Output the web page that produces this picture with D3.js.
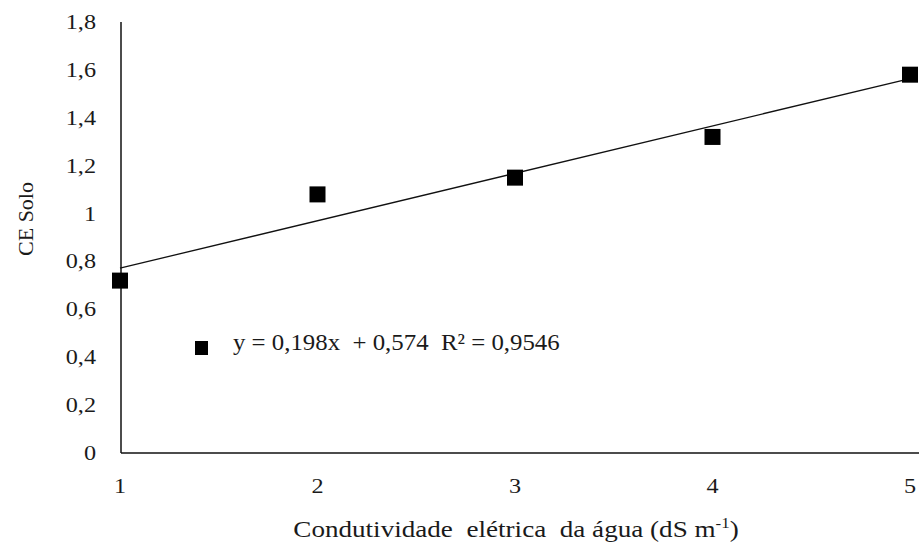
<!DOCTYPE html>
<html>
<head>
<meta charset="utf-8">
<script src="https://cdn.jsdelivr.net/npm/d3@7"></script>
<style>
  body { margin: 0; background: #fff; }
  svg text { font-family: "Liberation Serif", "Times New Roman", serif; fill: #1a1a1a; white-space: pre; }
</style>
</head>
<body>
<div class="canvas"></div>
<script>
// data
var condAgua = [1, 2, 3, 4, 5];
var ceSolo = [0.72, 1.08, 1.15, 1.32, 1.58];
var yTicks = [0, 0.2, 0.4, 0.6, 0.8, 1, 1.2, 1.4, 1.6, 1.8];
var fitSlope = 0.198;
var fitIntercept = 0.574;
var fitLabel = "y = 0,198x  + 0,574  R² = 0,9546";

var fig_width = 919;
var fig_height = 543;

var svg = d3.select("body div.canvas").append("svg")
	.attr("width", fig_width)
	.attr("height", fig_height);

var x = d3.scaleLinear().domain([1, 5]).range([120, 910]);
var y = d3.scaleLinear().domain([0, 1.8]).range([453, 22]);
var fmt = function(v) { return String(v).replace(".", ","); };

// the source text looks a bit stretched sideways, so widen it with a scale
function label(px, py, anchor, size, sx, txt) {
	return svg.append("text")
		.attr("transform", "translate(" + px + "," + py + ") scale(" + sx + ",1)")
		.attr("text-anchor", anchor)
		.style("font-size", size + "px")
		.text(txt);
}

// axis lines
svg.append("line")
	.attr("x1", 121).attr("x2", 121)
	.attr("y1", y(1.8)).attr("y2", y(0))
	.attr("stroke", "#111").attr("stroke-width", 1.5);
svg.append("line")
	.attr("x1", 121).attr("x2", 919)
	.attr("y1", y(0)).attr("y2", y(0))
	.attr("stroke", "#111").attr("stroke-width", 1.5);

// y tick labels
yTicks.forEach(function(d) {
	label(96, y(d) + 7, "end", 22, 1.1, fmt(d));
});

// x tick labels
condAgua.forEach(function(d) {
	label(x(d), 493, "middle", 22, 1.1, d);
});

// trend line
svg.append("line")
	.attr("x1", x(1)).attr("y1", y(fitSlope * 1 + fitIntercept))
	.attr("x2", x(5)).attr("y2", y(fitSlope * 5 + fitIntercept))
	.attr("stroke", "#111").attr("stroke-width", 1.3);

// points
var sq = 16;
svg.selectAll("rect.pt").data(condAgua).enter()
	.append("rect")
	.attr("class", "pt")
	.attr("x", function(d) { return x(d) - sq / 2; })
	.attr("y", function(d, i) { return y(ceSolo[i]) - sq / 2; })
	.attr("width", sq).attr("height", sq)
	.attr("fill", "#000");

// legend
svg.append("rect")
	.attr("x", 195).attr("y", 341)
	.attr("width", 13).attr("height", 14)
	.attr("fill", "#000");
label(233, 350, "start", 23, 1.08, fitLabel);

// axis titles
var xt = label(516, 537, "middle", 24, 1.13, "Condutividade  elétrica  da água (dS m");
xt.append("tspan").attr("dy", -9).style("font-size", "15px").text("-1");
xt.append("tspan").attr("dy", 9).text(")");

svg.append("text")
	.attr("transform", "translate(33,219) rotate(-90)")
	.attr("text-anchor", "middle")
	.style("font-size", "22px")
	.text("CE Solo");
</script>
</body>
</html>
